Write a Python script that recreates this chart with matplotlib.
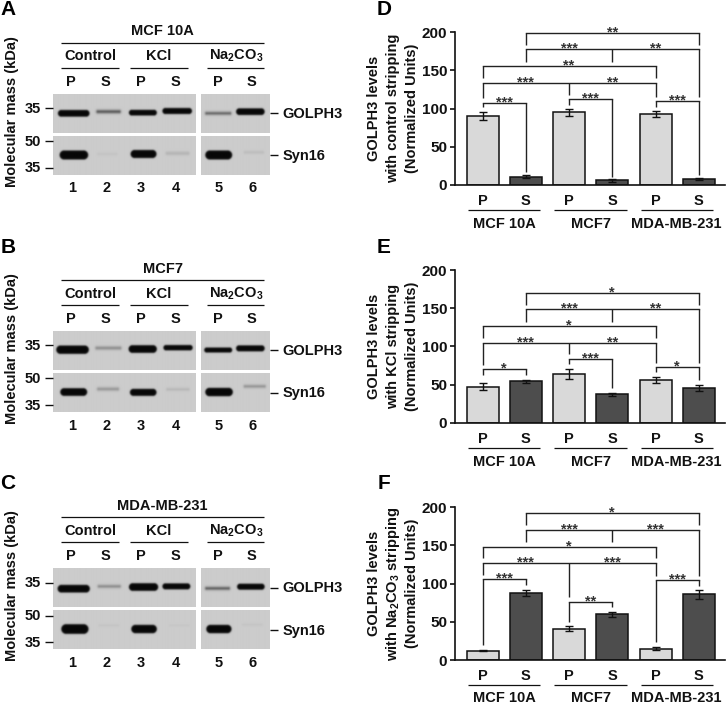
import numpy as np
import matplotlib
matplotlib.use("Agg")
import matplotlib.pyplot as plt

plt.rcParams['font.family'] = ['Liberation Sans', 'DejaVu Sans']
plt.rcParams['font.weight'] = 'bold'
plt.rcParams['mathtext.fontset'] = 'custom'
plt.rcParams['mathtext.rm'] = 'Liberation Sans'
plt.rcParams['mathtext.default'] = 'rm'

# ---------- data ----------
lane_labels = ['P', 'S', 'P', 'S', 'P', 'S']
lane_numbers = ['1', '2', '3', '4', '5', '6']
treatments = ['Control', 'KCl', r'Na$_2$CO$_3$']
cell_lines = ['MCF 10A', 'MCF7', 'MDA-MB-231']
marker_labels = ['35', '50', '35']
protein_labels = ['GOLPH3', 'Syn16']

# band darkness per lane (0-1)
golph3_A = [1.0, 0.62, 1.0, 1.0, 0.55, 1.0]
syn16_A = [1.0, 0.05, 1.0, 0.13, 1.0, 0.08]
golph3_B = [1.0, 0.33, 1.0, 1.0, 1.0, 1.0]
syn16_B = [1.0, 0.28, 1.0, 0.12, 1.0, 0.30]
golph3_C = [1.0, 0.35, 1.0, 1.0, 0.6, 1.0]
syn16_C = [1.0, 0.05, 1.0, 0.04, 1.0, 0.05]

# densitometry bars
control_values = [90, 11, 95, 6, 93, 8]
control_errors = [5.5, 1.5, 4.5, 1.5, 4, 1]
kcl_values = [47, 54, 64, 37, 56, 45]
kcl_errors = [4.5, 2.5, 6.5, 1.5, 3.5, 4]
na2co3_values = [12, 88, 41, 60, 15, 86]
na2co3_errors = [0.7, 4, 3.5, 3.5, 2, 5.5]
bar_labels = ['P', 'S', 'P', 'S', 'P', 'S']
y_ticks = [0, 50, 100, 150, 200]

# significance brackets: (lanes, level, lower end of each drop)
# stars: (lane position, text)
control_brackets = [
    ((1, 5), 199.5, (183.8, 183.8)),
    ((1, 3, 5), 177.7, (161.5, 161.5, 115.7)),
    ((0, 4), 155.9, (139.8, 139.8)),
    ((0, 2, 4), 134.0, (113.6, 117.9, 114.9)),
    ((0, 1), 107.8, (101.8, 17.5)),
    ((2, 3), 112.2, (104.4, 10.9)),
    ((4, 5), 109.6, (101.8, 13.1)),
]
control_stars = [(3, 199.5, '**'), (2, 177.7, '***'), (4, 177.7, '**'),
                 (2, 155.9, '**'), (1, 134.0, '***'), (3, 134.0, '**'),
                 (0.5, 107.8, '***'), (2.5, 112.2, '***'), (4.5, 109.6, '***')]
kcl_brackets = [
    ((1, 5), 170.3, (154.6, 154.6)),
    ((1, 3, 5), 148.5, (132.3, 132.3, 78.6)),
    ((0, 4), 126.7, (110.6, 110.6)),
    ((0, 2, 4), 104.8, (75.6, 90.0, 78.6)),
    ((0, 1), 70.0, (62.5, 62.5)),
    ((2, 3), 83.4, (76.9, 45.0)),
    ((4, 5), 72.5, (66.0, 56.0)),
]
kcl_stars = [(3, 170.3, '*'), (2, 148.5, '***'), (4, 148.5, '**'),
             (2, 126.7, '*'), (1, 104.8, '***'), (3, 104.8, '**'),
             (0.5, 70.0, '*'), (2.5, 83.4, '***'), (4.5, 72.5, '*')]
na2co3_brackets = [
    ((1, 5), 192.1, (176.9, 176.9)),
    ((1, 3, 5), 170.3, (155.0, 155.0, 110.0)),
    ((0, 4), 148.4, (133.2, 133.2)),
    ((0, 2, 4), 126.6, (111.4, 82.1, 110.0)),
    ((0, 1), 105.7, (19.7, 98.3)),
    ((2, 3), 75.6, (50.2, 69.0)),
    ((4, 5), 104.8, (24.0, 97.3)),
]
na2co3_stars = [(3, 192.1, '*'), (2, 170.3, '***'), (4, 170.3, '***'),
                (2, 148.4, '*'), (1, 126.6, '***'), (3, 126.6, '***'),
                (0.5, 105.7, '***'), (2.5, 75.6, '**'), (4.5, 104.8, '***')]

# ---------- layout (pixels) ----------
W, H = 726, 704
fig = plt.figure(figsize=(W / 100, H / 100), dpi=100, facecolor='white')
ov = fig.add_axes([0, 0, 1, 1], zorder=5)
ov.patch.set_alpha(0)
ov.axis('off')

TXT = '#111111'
FS = 10.5
DY = 0.6  # vertical centring nudge for capitals


def blot(rect, bands, darkness):
    """rect = x0,x1,y0,y1 ; bands = list of (xa,xb,yc,h) in pixels."""
    x0, x1, y0, y1 = rect
    s = 3
    xs = np.arange(x0, x1, 1 / s) + 0.5 / s
    ys = np.arange(y0, y1, 1 / s) + 0.5 / s
    X, Y = np.meshgrid(xs, ys)
    img = np.full(X.shape, 0.80)
    for (xa, xb, yc, h), d in zip(bands, darkness):
        cx, w = (xa + xb) / 2, xb - xa
        r = h / 2
        qx = np.abs(X - cx) - (w / 2 - r)
        qy = np.abs(Y - yc) - (h / 2 - r)
        sdf = (np.hypot(np.maximum(qx, 0), np.maximum(qy, 0))
               + np.minimum(np.maximum(qx, qy), 0) - r)
        soft = 0.9 if d > 0.8 else 1.4
        alpha = 0.5 * (1 - np.tanh(sdf / soft))
        img -= 0.77 * d * alpha
    ov.imshow(np.clip(img, 0, 1), extent=(x0, x1, y1, y0), cmap='gray', vmin=0, vmax=1,
              aspect='auto', interpolation='bilinear', zorder=1)


def z(v):
    return v / 3


def western(letter, letter_y, title, dy, g_bands, g_dark, s_bands, s_dark, g_y, s_y, ticks_y):
    ov.text(8, letter_y + DY, letter, fontsize=15, ha='center', va='center', color='black')
    ov.text(162.7, 30.7 + dy + DY, title, fontsize=FS, ha='center', va='center', color=TXT)
    ov.plot([61, 264.3], [42.7 + dy] * 2, color='#111111', lw=0.9, solid_capstyle='butt')
    for (a, b), cx, t in zip([(61, 119), (130, 188), (206.7, 264.3)], [90, 159, 235.7], treatments):
        ov.plot([a, b], [67.7 + dy] * 2, color='#111111', lw=0.9, solid_capstyle='butt')
        ov.text(cx, 55.7 + dy + DY, t, fontsize=FS, ha='center', va='center', color=TXT)
    for x, lab in zip([71, 105.7, 141, 175, 217.7, 251.7], lane_labels):
        ov.text(x, 81 + dy + DY, lab, fontsize=FS, ha='center', va='center', color=TXT)
    for x, lab in zip([71.7, 106.3, 141, 175.7, 218.3, 252.3], lane_numbers):
        ov.text(x, 187.7 + dy + DY, lab, fontsize=FS, ha='center', va='center', color=TXT)
    for r, b, d in [((52.7, 195, 94 + dy, 132.7 + dy), g_bands, g_dark[:4]),
                    ((200.7, 269.3, 94 + dy, 132.7 + dy), g_bands[4:], g_dark[4:]),
                    ((52.7, 195, 136 + dy, 174.7 + dy), s_bands, s_dark[:4]),
                    ((200.7, 269.3, 136 + dy, 174.7 + dy), s_bands[4:], s_dark[4:])]:
        blot(r, b, d)
    for y, lab in zip(ticks_y, marker_labels):
        ov.plot([44.5, 52.7], [y, y], color='#111111', lw=1.0, solid_capstyle='butt')
        ov.text(41, y + DY, lab, fontsize=FS, ha='right', va='center', color=TXT)
    for y, lab in zip([g_y, s_y], protein_labels):
        ov.plot([269.5, 277.7], [y, y], color='#111111', lw=1.0, solid_capstyle='butt')
        ov.text(282.7, y + DY, lab, fontsize=FS, ha='left', va='center', color=TXT)
    ov.text(11.7, 111.7 + dy, 'Molecular mass (kDa)', fontsize=FS, rotation=90,
            ha='center', va='center', color=TXT)


def bands(rows, base):
    return [(z(a), z(b), base + z(y), z(h)) for a, b, y, h in rows]


western('A', 8.5, cell_lines[0], 0,
        bands([(173, 267, 340, 20), (288, 360, 335, 9), (385, 468, 338, 17), (485, 573, 333, 18),
               (615, 692, 340, 8), (707, 792, 335, 20)], 0), golph3_A,
        bands([(178, 263, 465, 27), (290, 350, 462, 7), (390, 467, 462, 24), (495, 565, 460, 9),
               (615, 695, 465, 27), (730, 790, 457, 8)], 0), syn16_A,
        113.3, 155.3, [108.3, 141, 167.7])
western('B', 246.7, cell_lines[1], 237.3,
        bands([(168, 265, 345, 25), (285, 362, 340, 9), (384, 468, 343, 23), (488, 575, 339, 16),
               (612, 695, 346, 15), (707, 792, 341, 18)], 235), golph3_B,
        bands([(180, 260, 472, 23), (290, 355, 463, 9), (388, 467, 473, 21), (497, 565, 464, 7),
               (615, 697, 472, 25), (730, 795, 455, 8)], 235), syn16_B,
        350.3, 392.7, [345.3, 378.3, 405])
western('C', 483.3, cell_lines[2], 474.3,
        bands([(172, 268, 357, 23), (292, 360, 350, 8), (385, 472, 352, 23), (485, 568, 350, 18),
               (615, 688, 356, 8), (710, 792, 351, 18)], 470), golph3_C,
        bands([(183, 264, 478, 29), (295, 355, 467, 5), (392, 468, 478, 25), (505, 565, 467, 4),
               (618, 693, 478, 25), (725, 785, 465, 5)], 470), syn16_C,
        587.7, 630, [582.7, 615.7, 642.3])

ov.set_xlim(0, W)
ov.set_ylim(H, 0)

# ---------- bar charts ----------
AX_L, AX_R = 455, 725
UNIT = 43.2
FIRST = 482.7
AX_H = 152.7


def barpanel(letter, letter_y, y0, label_lines, vals, errs, brackets, stars, group_off):
    ax = fig.add_axes([AX_L / W, 1 - y0 / H, (AX_R - AX_L) / W, AX_H / H], zorder=2)
    ax.patch.set_alpha(0)
    ax.set_xlim((AX_L - FIRST) / UNIT, (AX_R - FIRST) / UNIT)
    ax.set_ylim(0, 200)
    xs = np.arange(len(vals))
    colors = ['#d9d9d9' if l == 'P' else '#4d4d4d' for l in bar_labels]
    ax.bar(xs, vals, width=32 / UNIT, color=colors, edgecolor='#111111', linewidth=1.1, zorder=2)
    ax.errorbar(xs, vals, yerr=errs, fmt='none', ecolor='#111111', elinewidth=1.0,
                capsize=3, capthick=1.0, zorder=3)
    for s in ('top', 'right'):
        ax.spines[s].set_visible(False)
    for s in ('left', 'bottom'):
        ax.spines[s].set_linewidth(1.2)
        ax.spines[s].set_color('#111111')
    ax.set_yticks(y_ticks)
    ax.set_yticklabels([str(t) for t in y_ticks], fontsize=11, color=TXT)
    ax.tick_params(axis='y', length=3.6, width=1.2, pad=2, color='#111111')
    ax.set_xticks(xs)
    ax.set_xticklabels(bar_labels, fontsize=FS, color=TXT)
    ax.tick_params(axis='x', length=0, pad=6.5)
    for lanes, level, ends in brackets:
        ax.plot([lanes[0], lanes[-1]], [level, level], color='#222222', lw=1.0,
                solid_capstyle='projecting', zorder=4)
        for l, e in zip(lanes, ends):
            ax.plot([l, l], [level, e], color='#222222', lw=1.0, solid_capstyle='butt', zorder=4)
    for x, y, t in stars:
        ax.annotate(t, (x, y), xytext=(0, -2.6), textcoords='offset points', ha='center',
                    va='baseline', fontsize=10.5, fontweight='bold', color='#333333',
                    annotation_clip=False)
    for (a, b), cx, name in zip([(468.3, 540), (554.3, 626.7), (640.7, 713.3)],
                                [504, 590.7, 676.7], cell_lines):
        ov.plot([a, b], [y0 + 25, y0 + 25], color='#111111', lw=0.9, solid_capstyle='butt')
        ov.text(cx, y0 + group_off, name, fontsize=FS, ha='center', va='center', color=TXT)
    ov.text(384, letter_y + DY, letter, fontsize=15, ha='center', va='center', color='black')
    for x, line in zip([374.3, 392.7, 411.7], label_lines):
        ov.text(x, y0 - 76.5, line, fontsize=FS, rotation=90, ha='center', va='center', color=TXT)


barpanel('D', 8.5, 185, ['GOLPH3 levels', 'with control stripping', '(Normalized Units)'],
         control_values, control_errors, control_brackets, control_stars, 39)
barpanel('E', 246.7, 422.7, ['GOLPH3 levels', 'with KCl stripping', '(Normalized Units)'],
         kcl_values, kcl_errors, kcl_brackets, kcl_stars, 39)
barpanel('F', 483.3, 660, ['GOLPH3 levels', r'with Na$_2$CO$_3$ stripping', '(Normalized Units)'],
         na2co3_values, na2co3_errors, na2co3_brackets, na2co3_stars, 37.5)

ov.set_xlim(0, W)
ov.set_ylim(H, 0)
fig.savefig('out.png', dpi=100)
